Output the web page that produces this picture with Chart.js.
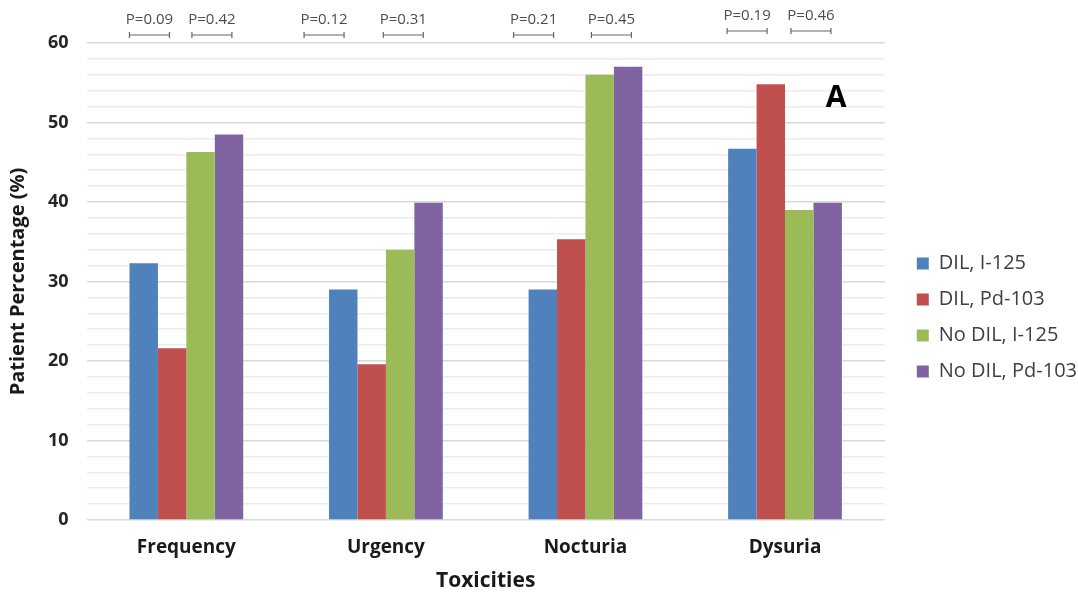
<!DOCTYPE html>
<html>
<head>
<meta charset="utf-8">
<script src="https://cdn.jsdelivr.net/npm/chart.js@4"></script>
<style>
  body { margin: 0; background: #fff; }
  #wrap { width: 1078px; height: 592px; position: relative; }
</style>
</head>
<body>
<div id="wrap"><canvas id="barCanvas"></canvas></div>
<script>
const categories = ["Frequency", "Urgency", "Nocturia", "Dysuria"];
const dilI125 = [32.3, 29.0, 29.0, 46.7];
const dilPd103 = [21.6, 19.6, 35.3, 54.8];
const noDilI125 = [46.3, 34.0, 56.0, 39.0];
const noDilPd103 = [48.5, 39.9, 57.0, 39.9];
// p-values per category: [DIL I vs Pd, No DIL I vs Pd]
const pValues = [["P=0.09", "P=0.42"], ["P=0.12", "P=0.31"], ["P=0.21", "P=0.45"], ["P=0.19", "P=0.46"]];

// bracket centres, as a fraction of category width from its centre
const bracketOffsets = [[-0.185, 0.128], [-0.31, 0.087], [-0.26, 0.13], [-0.19, 0.13]];

const pLabels = {
    id: "pLabels",
    beforeLayout(chart) {
        // give the legend a wider gap on its left, like the original
        const lg = chart.legend;
        if (lg && !lg._wide) {
            const fit = lg.fit.bind(lg);
            lg.fit = function () { fit(); this.width += 7; };
            lg._wide = true;
        }
    },
    afterLayout(chart) {
        if (chart.legend) chart.legend.left += 16;
    },
    afterDraw(chart) {
        const ctx = chart.ctx;
        const x = chart.scales.x;
        const step = x.width / categories.length;
        ctx.save();
        ctx.strokeStyle = "#666";
        ctx.lineWidth = 1.2;
        ctx.fillStyle = "#4d4d4d";
        ctx.font = "15px 'Open Sans'";
        ctx.textAlign = "center";
        ctx.textBaseline = "middle";
        categories.forEach((c, i) => {
            const cx = x.getPixelForValue(i);
            const yLine = i == 3 ? 31 : 35;
            pValues[i].forEach((p, j) => {
                const bx = cx + bracketOffsets[i][j] * step;
                ctx.fillText(p, bx, yLine - 15);
                ctx.beginPath();
                ctx.moveTo(bx - 20, yLine);
                ctx.lineTo(bx + 20, yLine);
                ctx.moveTo(bx - 20, yLine - 3);
                ctx.lineTo(bx - 20, yLine + 3);
                ctx.moveTo(bx + 20, yLine - 3);
                ctx.lineTo(bx + 20, yLine + 3);
                ctx.stroke();
            });
        });
        ctx.fillStyle = "#000";
        ctx.font = "bold 30px 'Open Sans'";
        ctx.fillText("A", 836, 98);
        ctx.restore();
    }
};

const barCanvas = document.getElementById("barCanvas");

const barChart = new Chart(barCanvas, {
    type: "bar",
    data: {
        labels: categories,
        datasets: [
            { label: "DIL, I-125", data: dilI125, backgroundColor: "#4F81BD" },
            { label: "DIL, Pd-103", data: dilPd103, backgroundColor: "#C0504D" },
            { label: "No DIL, I-125", data: noDilI125, backgroundColor: "#9BBB59" },
            { label: "No DIL, Pd-103", data: noDilPd103, backgroundColor: "#8064A2" }
        ]
    },
    plugins: [pLabels],
    options: {
        responsive: true,
        maintainAspectRatio: false,
        animation: false,
        layout: { padding: { top: 43, right: 0, left: 6, bottom: 0 } },
        datasets: {
            bar: { barPercentage: 1.0, categoryPercentage: 0.57 }
        },
        plugins: {
            tooltip: { enabled: false },
            legend: {
                position: "right",
                labels: {
                    boxWidth: 12,
                    boxHeight: 12,
                    padding: 16,
                    color: "#404040",
                    font: { family: "'Open Sans'", size: 20 }
                }
            }
        },
        scales: {
            y: {
                min: 0,
                max: 60,
                border: { display: false },
                ticks: {
                    stepSize: 2,
                    autoSkip: false,
                    padding: 18,
                    color: "#262626",
                    font: { family: "'Open Sans'", size: 18, weight: "bold" },
                    callback: v => v % 10 == 0 ? v : ""
                },
                grid: {
                    drawTicks: false,
                    color: c => c.tick.value % 10 == 0 ? "#d9d9d9" : "#ececec",
                    lineWidth: 1.5
                },
                title: {
                    display: true,
                    text: "Patient Percentage (%)",
                    color: "#1a1a1a",
                    font: { family: "'Open Sans'", size: 20, weight: "bold" },
                    padding: 0
                }
            },
            x: {
                border: { display: false },
                grid: { display: false },
                ticks: {
                    padding: 10,
                    color: "#1a1a1a",
                    font: { family: "'Open Sans'", size: 19, weight: "bold", lineHeight: 1 }
                },
                title: {
                    display: true,
                    text: "Toxicities",
                    color: "#1a1a1a",
                    font: { family: "'Open Sans'", size: 21, weight: "bold", lineHeight: 1 },
                    padding: { top: 4, bottom: 0 }
                }
            }
        }
    }
});
</script>
</body>
</html>
